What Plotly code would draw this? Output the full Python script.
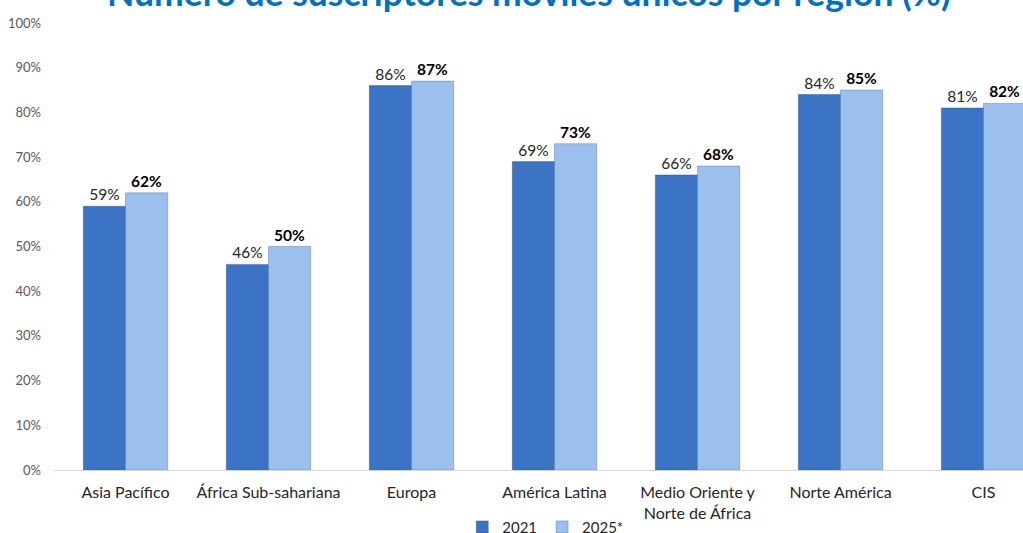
import plotly.graph_objects as go

categories = ["Asia Pacífico", "África Sub-sahariana", "Europa", "América Latina",
              "Medio Oriente y<br>Norte de África", "Norte América", "CIS"]
values_2021 = [59, 46, 86, 69, 66, 84, 81]
values_2025 = [62, 50, 87, 73, 68, 85, 82]
series_names = ["2021", "2025*"]
y_ticks = [0, 10, 20, 30, 40, 50, 60, 70, 80, 90, 100]
title_text = "Número de suscriptores móviles únicos por región (%)"

font_family = "Lato, sans-serif"

fig = go.Figure()
fig.add_trace(go.Bar(
    x=categories, y=values_2021, name=series_names[0],
    marker=dict(color="#3B74C4", line=dict(color="rgba(30,60,110,0.35)", width=1)),
    text=[f"{v}%" for v in values_2021], textposition="outside",
    textfont=dict(size=15.5, color="#262626", family=font_family),
    cliponaxis=False,
))
fig.add_trace(go.Bar(
    x=categories, y=values_2025, name=series_names[1],
    marker=dict(color="#9BC0EE", line=dict(color="rgba(60,90,140,0.35)", width=1)),
    text=[f"<b>{v}%</b>" for v in values_2025], textposition="outside",
    textfont=dict(size=15.5, color="#000000", family=font_family),
    cliponaxis=False,
))

fig.update_layout(
    width=1023, height=533,
    margin=dict(l=54, r=0, t=23, b=63, autoexpand=False),
    paper_bgcolor="white", plot_bgcolor="white",
    barmode="group", bargap=0.41, bargroupgap=0,
    font=dict(family=font_family),
    showlegend=True,
    legend=dict(orientation="h", x=0.533, xanchor="center", xref="container",
                y=0.011, yanchor="middle", yref="container",
                font=dict(size=15, color="#262626"), itemwidth=30,
                traceorder="normal"),
    xaxis=dict(range=[-0.5, 6.276], showline=True, linecolor="#D9D9D9", linewidth=1,
               ticks="", tickfont=dict(size=16, color="#262626"), showgrid=False,
               ticklabelstandoff=8, automargin=False),
    yaxis=dict(range=[0, 100], tickvals=y_ticks, ticktext=[f"{t}%" for t in y_ticks],
               showgrid=False, zeroline=False, showline=False, automargin=False,
               tickfont=dict(size=13, color="#595959"), ticklabelstandoff=12),
)
fig.add_annotation(
    text=f"<b>{title_text}</b>", xref="paper", yref="paper", x=0.49, y=1,
    xanchor="center", yanchor="bottom", yshift=7, showarrow=False,
    font=dict(size=35.5, color="#0070C0", family=font_family),
)

fig.write_html("out.html", config={"displayModeBar": False},
               post_script="document.body.style.margin='0';document.body.style.overflow='hidden';")
